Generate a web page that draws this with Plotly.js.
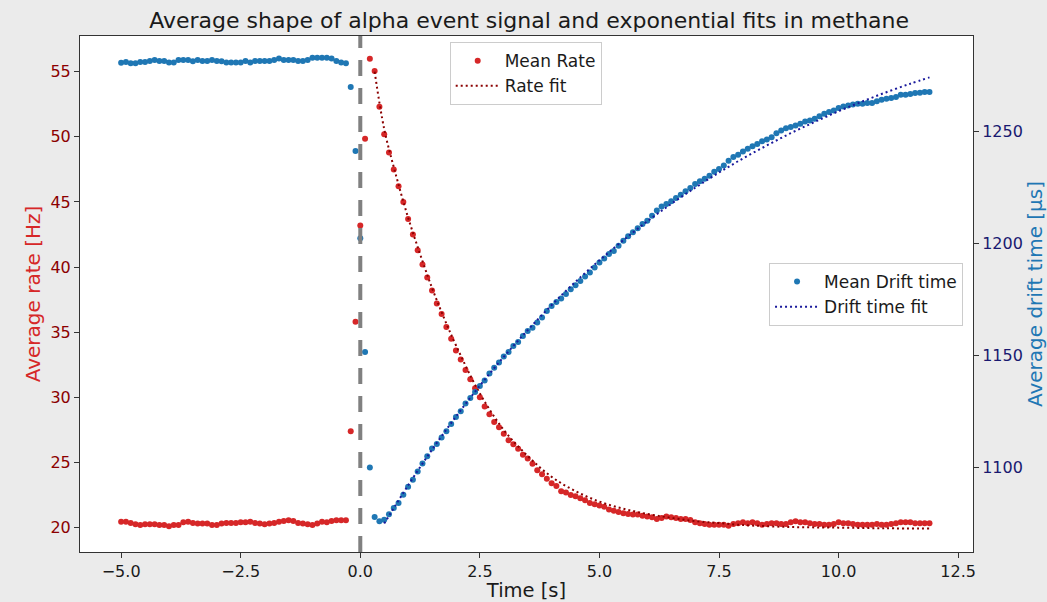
<!DOCTYPE html>
<html>
<head>
<meta charset="utf-8">
<script src="https://cdn.plot.ly/plotly-3.0.1.min.js"></script>
<style>
  html, body { margin: 0; padding: 0; background: #ebebeb; }
  #chart { width: 1047px; height: 602px; }
</style>
</head>
<body>
<div id="chart"></div>
<script>
// Time axis [s]
const time = [
  -5.0,-4.9,-4.8,-4.7,-4.6,-4.5,-4.4,-4.3,-4.2,-4.1,
  -4.0,-3.9,-3.8,-3.7,-3.6,-3.5,-3.4,-3.3,-3.2,-3.1,
  -3.0,-2.9,-2.8,-2.7,-2.6,-2.5,-2.4,-2.3,-2.2,-2.1,
  -2.0,-1.9,-1.8,-1.7,-1.6,-1.5,-1.4,-1.3,-1.2,-1.1,
  -1.0,-0.9,-0.8,-0.7,-0.6,-0.5,-0.4,-0.3,-0.2,-0.1,
  0.0,0.1,0.2,0.3,0.4,0.5,0.6,0.7,0.8,0.9,
  1.0,1.1,1.2,1.3,1.4,1.5,1.6,1.7,1.8,1.9,
  2.0,2.1,2.2,2.3,2.4,2.5,2.6,2.7,2.8,2.9,
  3.0,3.1,3.2,3.3,3.4,3.5,3.6,3.7,3.8,3.9,
  4.0,4.1,4.2,4.3,4.4,4.5,4.6,4.7,4.8,4.9,
  5.0,5.1,5.2,5.3,5.4,5.5,5.6,5.7,5.8,5.9,
  6.0,6.1,6.2,6.3,6.4,6.5,6.6,6.7,6.8,6.9,
  7.0,7.1,7.2,7.3,7.4,7.5,7.6,7.7,7.8,7.9,
  8.0,8.1,8.2,8.3,8.4,8.5,8.6,8.7,8.8,8.9,
  9.0,9.1,9.2,9.3,9.4,9.5,9.6,9.7,9.8,9.9,
  10.0,10.1,10.2,10.3,10.4,10.5,10.6,10.7,10.8,10.9,
  11.0,11.1,11.2,11.3,11.4,11.5,11.6,11.7,11.8,11.9
];

// Mean rate [Hz]
const meanRate = [
  20.46,20.46,20.36,20.26,20.20,20.26,20.26,20.26,20.20,20.20,
  20.10,20.20,20.20,20.41,20.46,20.36,20.31,20.31,20.31,20.20,
  20.20,20.31,20.36,20.36,20.36,20.41,20.41,20.46,20.36,20.31,
  20.26,20.31,20.36,20.46,20.51,20.56,20.51,20.36,20.31,20.26,
  20.20,20.31,20.46,20.41,20.51,20.56,20.56,20.56,27.4,35.8,
  43.2,49.85,56.0,55.05,52.3,50.2,48.8,47.5,46.2,45.0,
  43.7,42.5,41.3,40.2,39.2,38.2,37.2,36.4,35.4,34.5,
  33.6,32.9,32.1,31.4,30.7,30.0,29.3,28.7,28.1,27.7,
  27.2,26.7,26.4,26.05,25.6,25.3,24.9,24.4,24.1,23.75,
  23.4,23.2,22.8,22.7,22.5,22.4,22.25,22.1,21.9,21.8,
  21.7,21.6,21.4,21.3,21.2,21.1,21.05,21.0,21.0,20.92,
  20.85,20.79,20.67,20.74,20.85,20.79,20.74,20.67,20.67,20.59,
  20.41,20.33,20.28,20.23,20.23,20.23,20.23,20.15,20.28,20.33,
  20.41,20.33,20.41,20.33,20.23,20.28,20.33,20.33,20.28,20.28,
  20.41,20.49,20.41,20.41,20.33,20.28,20.28,20.23,20.23,20.28,
  20.41,20.33,20.33,20.28,20.23,20.23,20.23,20.23,20.28,20.23,
  20.23,20.28,20.33,20.41,20.41,20.41,20.33,20.33,20.33,20.33
];

// Mean drift time [us]
const meanDrift = [
  1280.8,1281.2,1280.6,1280.6,1281.2,1281.2,1281.6,1282.1,1281.6,1281.6,
  1281.0,1281.0,1282.1,1282.1,1282.1,1281.5,1282.1,1281.6,1281.6,1282.1,
  1281.6,1281.5,1281.0,1281.0,1281.0,1281.0,1281.6,1281.0,1281.6,1281.6,
  1281.6,1281.6,1282.1,1282.7,1282.1,1282.1,1282.1,1281.6,1281.6,1282.1,
  1283.1,1283.1,1283.1,1283.1,1282.7,1281.6,1281.0,1280.6,1270.0,1241.4,
  1202.4,1151.6,1100.1,1077.9,1076.0,1076.7,1079.2,1081.9,1084.2,1087.9,
  1091.4,1094.6,1098.3,1101.8,1105.1,1108.5,1110.6,1113.4,1116.2,1119.5,
  1122.6,1125.2,1128.6,1131.1,1133.8,1136.4,1138.9,1142.0,1144.6,1147.0,
  1149.6,1151.6,1154.3,1156.1,1158.8,1161.0,1162.5,1164.8,1167.0,1170.0,
  1172.2,1174.0,1175.5,1177.5,1179.7,1181.5,1183.4,1185.4,1187.2,1189.4,
  1191.6,1193.4,1195.4,1196.8,1199.1,1201.3,1203.3,1205.1,1206.9,1208.8,
  1210.3,1212.5,1214.8,1216.6,1217.8,1219.0,1220.4,1221.9,1223.4,1224.9,
  1226.7,1227.9,1229.0,1230.4,1232.2,1233.4,1234.9,1237.1,1238.7,1239.7,
  1241.2,1242.4,1243.6,1244.6,1245.8,1246.6,1247.6,1249.4,1250.6,1251.6,
  1252.1,1252.8,1253.6,1254.6,1255.1,1255.8,1257.0,1258.1,1258.8,1259.5,
  1260.6,1261.3,1261.8,1262.2,1262.5,1262.5,1262.9,1262.9,1263.7,1264.3,
  1264.8,1265.1,1265.5,1266.6,1266.6,1266.9,1267.3,1267.5,1267.8,1267.8
];

// Rate fit
const rateFitT = [0.3,0.5,0.75,1.0,1.25,1.5,1.75,2.0,2.5,3.0,3.5,4.0,4.5,5.0,5.5,6.0,6.5,7.0,7.5,8.0,9.0,10.0,11.0,11.9];
const rateFitV = [55.0,50.6,47.0,43.8,41.0,38.4,36.1,34.0,30.3,27.5,25.5,23.9,22.8,22.0,21.45,21.05,20.75,20.5,20.35,20.2,20.05,20.0,19.95,19.93];

// Drift time fit
const driftFitT = [0.5,1.0,1.5,2.0,2.5,3.0,3.5,4.0,4.5,5.0,5.5,6.0,6.5,7.0,7.5,8.0,8.5,9.0,9.5,10.0,10.5,11.0,11.5,11.9];
const driftFitV = [1075.0,1092.1,1108.0,1122.8,1136.6,1149.5,1161.4,1172.6,1183.0,1192.6,1201.6,1210.0,1217.8,1225.0,1231.8,1238.1,1243.9,1249.4,1254.4,1259.2,1263.6,1267.7,1271.5,1274.3];

// Tick labels
const xTickVals = [-5.0,-2.5,0.0,2.5,5.0,7.5,10.0,12.5];
const xTickText = ['\u22125.0','\u22122.5','0.0','2.5','5.0','7.5','10.0','12.5'];
const yTickVals = [20,25,30,35,40,45,50,55];
const y2TickVals = [1100,1150,1200,1250];

const FONT = 'DejaVu Sans, Verdana, sans-serif';

const traces = [
  {
    x: time, y: meanRate, type: 'scatter', mode: 'markers', name: 'Mean Rate',
    marker: { color: '#d62728', size: 6 }, xaxis: 'x', yaxis: 'y', legend: 'legend'
  },
  {
    x: rateFitT, y: rateFitV, type: 'scatter', mode: 'lines', name: 'Rate fit',
    line: { color: '#8b0000', width: 2, dash: '2px,3px', shape: 'spline' },
    xaxis: 'x', yaxis: 'y', legend: 'legend'
  },
  {
    x: time, y: meanDrift, type: 'scatter', mode: 'markers', name: 'Mean Drift time',
    marker: { color: '#1f77b4', size: 6 }, xaxis: 'x', yaxis: 'y2', legend: 'legend2'
  },
  {
    x: driftFitT, y: driftFitV, type: 'scatter', mode: 'lines', name: 'Drift time fit',
    line: { color: '#1a1a9c', width: 2, dash: '2px,3px', shape: 'spline' },
    xaxis: 'x', yaxis: 'y2', legend: 'legend2'
  }
];

const axisLine = '#333333';

const layout = {
  width: 1047, height: 602,
  paper_bgcolor: '#ebebeb', plot_bgcolor: '#ffffff',
  font: { family: FONT, color: '#1a1a1a' },
  margin: { l: 80, r: 74, t: 36, b: 50, pad: 0 },
  title: {
    text: 'Average shape of alpha event signal and exponential fits in methane',
    font: { family: FONT, size: 22, color: '#1a1a1a' },
    x: 0.503, xanchor: 'center', xref: 'paper',
    y: 0.967, yanchor: 'middle', yref: 'container'
  },
  xaxis: {
    range: [-5.86, 12.81], tickvals: xTickVals, ticktext: xTickText,
    ticks: 'outside', ticklen: 5, tickwidth: 1, tickcolor: axisLine,
    showline: true, linecolor: axisLine, linewidth: 1, mirror: true,
    showgrid: false, zeroline: false, automargin: false,
    tickfont: { family: FONT, size: 16, color: '#1a1a1a' },
    title: { text: 'Time [s]', font: { family: FONT, size: 19.5, color: '#1a1a1a' }, standoff: 5 }
  },
  yaxis: {
    range: [18.13, 57.74], tickvals: yTickVals,
    ticks: 'outside', ticklen: 5, tickwidth: 1, tickcolor: axisLine,
    showline: true, linecolor: axisLine, linewidth: 1,
    showgrid: false, zeroline: false, automargin: false,
    tickfont: { family: FONT, size: 16, color: '#8b0000' },
    title: { text: 'Average rate [Hz]', font: { family: FONT, size: 20, color: '#d62728' }, standoff: 4 }
  },
  yaxis2: {
    overlaying: 'y', side: 'right',
    range: [1062.3, 1292.8], tickvals: y2TickVals,
    ticks: 'outside', ticklen: 5, tickwidth: 1, tickcolor: axisLine,
    showline: true, linecolor: axisLine, linewidth: 1,
    showgrid: false, zeroline: false, automargin: false,
    tickfont: { family: FONT, size: 16, color: '#191970' },
    title: { text: 'Average drift time [\u03bcs]', font: { family: FONT, size: 20, color: '#1f77b4' }, standoff: 8 }
  },
  legend: {
    x: 0.414, y: 0.988, xanchor: 'left', yanchor: 'top',
    bgcolor: 'rgba(255,255,255,0.85)', bordercolor: '#cccccc', borderwidth: 1,
    font: { family: FONT, size: 17, color: '#1a1a1a' },
    itemwidth: 44, tracegroupgap: 0
  },
  legend2: {
    x: 0.7716, y: 0.560, xanchor: 'left', yanchor: 'top',
    bgcolor: 'rgba(255,255,255,0.85)', bordercolor: '#cccccc', borderwidth: 1,
    font: { family: FONT, size: 17, color: '#1a1a1a' },
    itemwidth: 44, tracegroupgap: 0
  },
  shapes: [
    {
      type: 'line', xref: 'x', yref: 'paper', x0: 0, x1: 0, y0: 0, y1: 1,
      line: { color: '#808080', width: 4, dash: '16px,12px' }, layer: 'above'
    }
  ],
  showlegend: true
};

Plotly.newPlot('chart', traces, layout, { displayModeBar: false, staticPlot: true });
</script>
</body>
</html>
